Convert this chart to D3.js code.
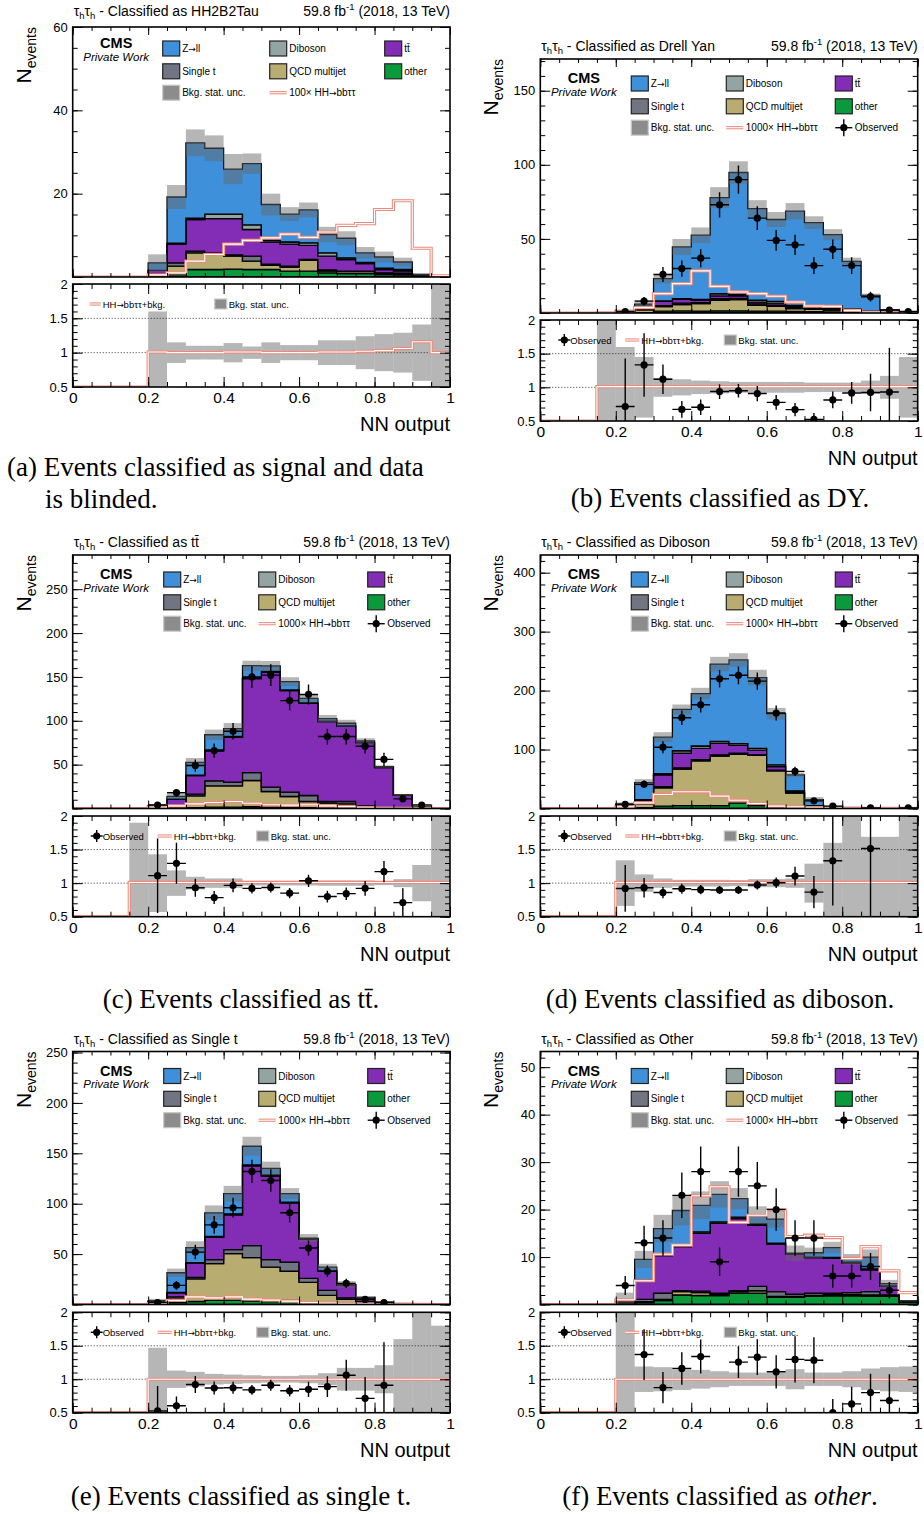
<!DOCTYPE html>
<html>
<head>
<meta charset="utf-8">
<script src="https://cdn.jsdelivr.net/npm/d3@7"></script>
<style>
  body { margin: 0; background: #fff; }
  svg { display: block; }
  .plot text { font-family: "Liberation Sans", Arial, Helvetica, sans-serif; fill: #000; }
  .plot .arrow { font-family: "DejaVu Sans", sans-serif; }
  .caption { font-family: "Liberation Serif", "DejaVu Serif", serif; font-size: 27px; fill: #000; }
</style>
</head>
<body>
<svg id="figure" width="924" height="1514"></svg>
<script>
// NN output binning (20 bins)
const binEdges = [0, 0.05, 0.1, 0.15, 0.2, 0.25, 0.3, 0.35, 0.4, 0.45, 0.5, 0.55, 0.6, 0.65, 0.7, 0.75, 0.8, 0.85, 0.9, 0.95, 1];

// (a) classified as HH2B2Tau
const hhOther   = [0, 0, 0, 0, 0.2, 0.6, 1.8, 1.8, 1.9, 1.8, 1.8, 1.4, 1.4, 1.0, 0.8, 0.8, 0.6, 0.5, 0.1, 0];
const hhQcd     = [0, 0, 0, 0, 0.4, 2.0, 4.0, 3.4, 3.1, 2.0, 1.0, 1.0, 2.6, 0.4, 0.5, 0.5, 0.3, 0.2, 0, 0];
const hhSingleT = [0, 0, 0, 0, 0.2, 0.8, 0.4, 0.5, 0.3, 1.2, 0.3, 0.2, 0.2, 0.3, 0.1, 0.1, 0.1, 0.2, 0.1, 0];
const hhTtbar   = [0, 0, 0, 0, 0.8, 4.5, 7.6, 8.3, 8.7, 6.4, 5.3, 5.3, 3.4, 3.3, 2.8, 1.8, 0.8, 0.6, 0.1, 0.1];
const hhDiboson = [0, 0, 0, 0, 0, 0.2, 0.3, 1.1, 1.1, 1.1, 0.4, 0.5, 0.6, 0.8, 0.4, 0.3, 0.3, 0.3, 0, 0];
const hhZll     = [0, 0, 0, 0, 1.8, 11.1, 18.1, 15.8, 10.8, 14.7, 8.6, 6.7, 7.9, 4.4, 4.7, 2.3, 2.7, 1.8, 0.3, 0.1];
const hhSignal  = [0, 0, 0, 0, 0.5, 1.0, 3.8, 5.4, 7.9, 8.8, 9.4, 10.3, 9.5, 10.8, 12.4, 12.8, 16.2, 18.3, 6.9, 0.3];
const hhRelUnc  = [0, 0, 0, 0, 0.6, 0.15, 0.10, 0.10, 0.14, 0.09, 0.15, 0.11, 0.11, 0.18, 0.18, 0.24, 0.27, 0.29, 0.41, 1.5];
const hhSigRatio = [0, 0, 0, 0, 1.01, 1.0, 1.0, 1.0, 1.01, 1.01, 1.0, 1.0, 1.0, 1.01, 1.01, 1.02, 1.03, 1.06, 1.16, 1.0];
const hhObserved = null;

// (b) classified as Drell Yan
const dyOther   = [0, 0, 0, 0.05, 0.1, 0.3, 1.2, 1.4, 1.3, 1.5, 1.5, 1.3, 1.2, 1.0, 0.9, 0.7, 0.5, 0.3, 0.1, 0.05];
const dyQcd     = [0, 0, 0, 0, 0.4, 1.8, 3.2, 4.2, 5.0, 7.1, 7.5, 3.9, 3.3, 2.0, 1.5, 1.2, 0.8, 0.2, 0.1, 0];
const dySingleT = [0, 0, 0, 0, 0.2, 0.5, 0.6, 1.0, 0.7, 1.0, 0.8, 0.9, 0.8, 0.7, 0.6, 0.5, 0.4, 0.2, 0.1, 0];
const dyTtbar   = [0, 0, 0, 0, 0.3, 1.8, 2.8, 2.6, 1.7, 1.9, 1.7, 1.2, 1.3, 0.8, 0.6, 0.5, 0.5, 0.2, 0.1, 0.05];
const dyDiboson = [0, 0, 0, 0, 0.1, 0.3, 0.3, 0.5, 0.4, 1.5, 1.0, 1.3, 1.3, 0.7, 0.5, 0.5, 0.5, 0.3, 0.05, 0];
const dyZll     = [0, 0, 0, 0.1, 0.3, 1.3, 15.1, 34.9, 43.4, 64.9, 82.3, 61.9, 55.2, 63.5, 56.9, 49.5, 32.2, 10.7, 1.7, 0.3];
const dySignal  = [0, 0, 0, 0.1, 1.1, 3.6, 13.1, 19.8, 28.4, 18.0, 14.2, 13.1, 11.3, 7.4, 4.7, 4.5, 1.8, 0.5, 0.2, 0.1];
const dyRelUnc  = [0, 0, 0, 1.5, 0.6, 0.45, 0.14, 0.12, 0.10, 0.09, 0.08, 0.08, 0.08, 0.08, 0.07, 0.07, 0.07, 0.10, 0.17, 0.45];
const dySigRatio = [0, 0, 0, 1.01, 1.01, 1.01, 1.01, 1.01, 1.01, 1.01, 1.01, 1.01, 1.01, 1.01, 1.01, 1.01, 1.01, 1.01, 1.01, 1.01];
const dyObserved = [null, null, null, null, 1, 8, 26, 30, 37, 73, 90, 64, 49, 46, 32, 43, 32, 11, 2, 1];

// (c) classified as ttbar
const ttOther   = [0, 0, 0, 0.05, 0.3, 0.4, 1.0, 1.5, 1.5, 2.0, 1.5, 1.2, 1.0, 0.8, 0.8, 0.5, 0.3, 0.1, 0.1, 0];
const ttQcd     = [0, 0, 0, 0, 1.0, 1.6, 13.5, 24.3, 24.3, 29.9, 17.9, 12.5, 7.0, 5.3, 4.5, 1.5, 0.3, 0.1, 0, 0];
const ttSingleT = [0, 0, 0, 0, 0.4, 0.6, 1.8, 5.7, 4.2, 9.1, 4.9, 4.9, 6.8, 1.9, 2.7, 1.0, 0.5, 0.3, 0.1, 0];
const ttTtbar   = [0, 0, 0, 0.2, 1.5, 8.0, 21.3, 34.2, 51.2, 107.0, 130.9, 115.7, 105.1, 91.0, 86.0, 72.0, 45.5, 14.5, 1.2, 0.2];
const ttDiboson = [0, 0, 0, 0, 0.1, 0.2, 0.5, 1.0, 1.0, 1.0, 1.0, 0.8, 0.6, 0.5, 0.4, 0.3, 0.2, 0.1, 0, 0];
const ttZll     = [0, 0, 0, 0, 0.3, 3.1, 14.5, 17.4, 8.8, 13.8, 6.3, 9.5, 5.1, 3.0, 2.8, 1.7, 1.0, 0.4, 0.2, 0];
const ttSignal  = [0, 0, 0, 0, 1.5, 3.0, 5.3, 6.8, 8.0, 6.0, 4.2, 3.8, 4.2, 3.0, 2.3, 1.1, 0.5, 0.3, 0.1, 0];
const ttRelUnc  = [0, 0, 0, 0.9, 0.43, 0.19, 0.095, 0.07, 0.07, 0.035, 0.035, 0.035, 0.035, 0.04, 0.04, 0.04, 0.03, 0.06, 0.27, 1.5];
const ttSigRatio = [0, 0, 0, 1.01, 1.01, 1.01, 1.01, 1.01, 1.01, 1.01, 1.01, 1.01, 1.01, 1.01, 1.01, 1.01, 1.01, 1.01, 1.01, 1.01];
const ttObserved = [null, null, null, null, 4, 18, 49, 66, 88, 150, 152, 123, 130, 82, 82, 71, 56, 11, 4, null];

// (d) classified as Diboson
const vvOther   = [0, 0, 0, 0, 0.5, 1.5, 4, 5, 5, 5, 9, 5, 3, 2, 0.5, 0.2, 0.1, 0.05, 0.05, 0];
const vvQcd     = [0, 0, 0, 0, 2.3, 6.0, 31, 62, 76, 84, 83, 85, 61, 24, 3, 0.8, 0.3, 0.2, 0.2, 0.1];
const vvSingleT = [0, 0, 0, 0, 0.5, 1.5, 2, 2, 2, 2, 2, 1, 1, 1, 0.5, 0.2, 0.1, 0.05, 0.05, 0.05];
const vvTtbar   = [0, 0, 0, 0, 1.0, 5.0, 20, 25, 19, 20, 13, 8, 6, 2, 0.5, 0.3, 0.1, 0.1, 0.1, 0.05];
const vvDiboson = [0, 0, 0, 0, 0.4, 1.0, 2, 4, 4, 3, 3, 3, 3, 1, 0.5, 0.2, 0.1, 0.06, 0, 0];
const vvZll     = [0, 0, 0, 0, 2.9, 29.0, 62, 70, 89, 131, 142, 120, 87, 27, 10, 1.3, 0.3, 0.2, 0.2, 0.2];
const vvSignal  = [0, 0, 0, 0, 2.8, 9.6, 23.8, 28.3, 28.3, 21.0, 14.1, 8.5, 4.0, 2.8, 1.5, 1.0, 0.5, 0.3, 0.2, 0.1];
const vvRelUnc  = [0, 0, 0, 0, 0.34, 0.13, 0.07, 0.05, 0.05, 0.05, 0.045, 0.06, 0.06, 0.07, 0.29, 0.6, 1.5, 0.69, 0.69, 1.5];
const vvSigRatio = [0, 0, 0, 0, 1.01, 1.01, 1.01, 1.01, 1.01, 1.01, 1.01, 1.01, 1.01, 1.01, 1.01, 1.01, 1.01, 1.01, 1.01, 1.01];
const vvObserved = [null, null, null, null, 7, 41, 104, 154, 176, 220, 226, 216, 162, 63, 13, 4, null, 1, null, 1];

// (e) classified as Single t
const stOther   = [0, 0, 0, 0, 0.5, 2, 3, 4, 4, 3.5, 3, 4, 2, 1, 0.5, 0.3, 0.2, 0.1, 0, 0];
const stQcd     = [0, 0, 0, 0, 1.0, 3.5, 22.5, 36.5, 46.5, 43, 34, 29, 20, 8, 4.5, 1.5, 0.5, 0.2, 0.1, 0.1];
const stSingleT = [0, 0, 0, 0, 0.5, 2, 1.5, 4, 4, 12, 7.5, 9, 4, 5, 1.5, 1.0, 0.5, 0.2, 0.1, 0.1];
const stTtbar   = [0, 0, 0, 0, 0.8, 4, 14, 22, 34.5, 79, 83, 58.5, 39, 19, 13, 3.5, 0.8, 0.2, 0.1, 0.1];
const stDiboson = [0, 0, 0, 0, 0.2, 0.5, 0.5, 1, 1, 1, 1, 1, 0.3, 0.3, 0.2, 0.2, 0.1, 0, 0, 0];
const stZll     = [0, 0, 0, 0, 0.8, 19.5, 15, 23.5, 20, 18.5, 6.5, 8.5, 0.6, 3.8, 0.1, 0.5, 0.1, 0.1, 0, 0];
const stSignal  = [0, 0, 0, 0, 1.0, 4.0, 7.6, 6.6, 7.6, 5.3, 4.3, 3.3, 2.0, 1.5, 1.0, 0.7, 0.5, 0.3, 0.1, 0];
const stRelUnc  = [0, 0, 0, 0, 0.47, 0.13, 0.11, 0.08, 0.07, 0.06, 0.05, 0.05, 0.06, 0.09, 0.17, 0.17, 0.21, 0.6, 1.5, 0.8];
const stSigRatio = [0, 0, 0, 0, 1.0, 1.0, 1.0, 1.0, 1.0, 1.0, 1.0, 1.0, 1.0, 1.0, 1.0, 1.0, 1.0, 1.0, 1.0, 1.0];
const stObserved = [null, null, null, null, 2, 19, 52, 79, 96, 132, 123, 91, 56, 33, 21, 5, 2, null, null, null];

// (f) classified as Other
const otOther   = [0, 0, 0, 0, 0.3, 0.4, 0.8, 2.0, 1.9, 1.9, 2.4, 2.4, 1.5, 1.5, 1.7, 1.8, 1.8, 1.7, 1.7, 0.5];
const otQcd     = [0, 0, 0, 0, 0.1, 0.2, 0.3, 0.7, 0.6, 0.2, 0.3, 0.5, 0.2, 0.2, 0.2, 0.3, 0.3, 0.3, 0.1, 0];
const otSingleT = [0, 0, 0, 0, 0.2, 0.5, 1.3, 0.2, 0.3, 0.3, 0.2, 0.9, 1.0, 0.5, 0.5, 0.3, 0.4, 0.7, 0.2, 0];
const otTtbar   = [0, 0, 0, 0, 0.3, 3.9, 7.9, 9.3, 12.2, 14.7, 15.2, 12.9, 10.0, 8.4, 7.5, 7.3, 6.2, 4.6, 1.8, 0.2];
const otDiboson = [0, 0, 0, 0, 0, 0.2, 0.2, 0.2, 0.3, 0.3, 0.3, 0.3, 0.2, 0.1, 0.1, 0.2, 0.2, 0.2, 0.1, 0];
const otZll     = [0, 0, 0, 0, 0.1, 4.3, 5.5, 7.4, 5.6, 5.8, 3.9, 1.8, 5.1, 0.1, 0.9, 2.1, 0.6, 2.5, 0.5, 0.1];
const otSignal  = [0, 0, 0, 0, 1.0, 5.0, 10.6, 12.5, 22.9, 24.8, 17.3, 18.8, 19.9, 14.3, 14.6, 14.1, 9.7, 12.2, 7.1, 2.5];
const otRelUnc  = [0, 0, 0, 0, 1.5, 0.19, 0.18, 0.16, 0.14, 0.12, 0.10, 0.10, 0.10, 0.15, 0.10, 0.10, 0.12, 0.16, 0.18, 0.19];
const otSigRatio = [0, 0, 0, 0, 1.0, 1.0, 1.0, 1.0, 1.0, 1.0, 1.0, 1.0, 1.0, 1.0, 1.0, 1.0, 1.0, 1.0, 1.0, 1.0];
const otObserved = [null, null, null, null, 4, 13, 14, 23, 28, 9, 28, 25, 20, 14, 14, 6, 6, 8, 3, null];

// background processes, stacked bottom to top
const processes = [
    { key: 'other',   label: 'other',        color: '#0a9a3c' },
    { key: 'qcd',     label: 'QCD multijet', color: '#b9ac70' },
    { key: 'singleT', label: 'Single t',     color: '#717581' },
    { key: 'ttbar',   label: 'tt\u0304',     color: '#832db6' },
    { key: 'diboson', label: 'Diboson',      color: '#94a4a2' },
    { key: 'zll',     label: 'Z\u2192ll',    color: '#3f90da' }
];

const sigColor = '#ec8a7b';
const bandColor = '#666666';
const bandOpacity = 0.48;

// write a label, giving arrows a font that has a proper glyph
function setLabel(textSel, str) {
    str.split(/(\u2192)/).forEach(part => {
        if (!part) return;
        const ts = textSel.append('tspan').text(part);
        if (part === '\u2192') ts.attr('class', 'arrow').attr('font-size', '0.9em');
    });
    return textSel;
}

class ClassifierPlot {

    /**
     * @param {Object} _config - pad geometry and labels
     * @param {Object} _data - per-process bin contents, signal, observed
     */
    constructor(_config, _data) {
        this.config = {
            parentElement: _config.parentElement,
            id: _config.id,
            left: _config.left,
            right: _config.right,
            mainTop: _config.mainTop,
            mainBottom: _config.mainBottom,
            ratioTop: _config.ratioTop,
            ratioBottom: _config.ratioBottom,
            yMax: _config.yMax,
            yStep: _config.yStep,
            yMinor: _config.yMinor,
            title: _config.title,
            sigLabel: _config.sigLabel,
            legendShift: _config.legendShift || 0,
            legendCols: _config.legendCols || [91, 186, 295]
        };
        this.data = _data;
        this.initVis();
    }

    initVis() {
        let vis = this;
        const c = vis.config;

        vis.svg = d3.select(c.parentElement);
        vis.g = vis.svg.append('g').attr('class', 'plot');

        vis.xScale = d3.scaleLinear().domain([0, 1]).range([c.left, c.right]);
        vis.yScale = d3.scaleLinear().domain([0, c.yMax]).range([c.mainBottom, c.mainTop]);
        vis.rScale = d3.scaleLinear().domain([0.5, 2]).range([c.ratioBottom, c.ratioTop]);

        const defs = vis.g.append('defs');
        defs.append('clipPath').attr('id', c.id + '-main').append('rect')
            .attr('x', c.left).attr('y', c.mainTop)
            .attr('width', c.right - c.left).attr('height', c.mainBottom - c.mainTop);
        defs.append('clipPath').attr('id', c.id + '-ratio').append('rect')
            .attr('x', c.left).attr('y', c.ratioTop)
            .attr('width', c.right - c.left).attr('height', c.ratioBottom - c.ratioTop);

        vis.mainG = vis.g.append('g').attr('clip-path', `url(#${c.id}-main)`);
        vis.ratioG = vis.g.append('g').attr('clip-path', `url(#${c.id}-ratio)`);
        vis.axisG = vis.g.append('g');

        vis.updateVis();
    }

    updateVis() {
        let vis = this;

        vis.rows = binEdges.slice(0, -1).map((e, i) => {
            const r = { lo: e, hi: binEdges[i + 1] };
            processes.forEach(p => r[p.key] = vis.data[p.key][i]);
            return r;
        });
        vis.stacked = d3.stack().keys(processes.map(p => p.key))(vis.rows);
        vis.totals = vis.rows.map(r => d3.sum(processes, p => r[p.key]));

        vis.renderVis();
    }

    renderVis() {
        let vis = this;
        const c = vis.config;
        const x = vis.xScale, y = vis.yScale, r = vis.rScale;
        const nBins = vis.rows.length;
        const edgePts = vals => binEdges.map((e, i) => ({ x: e, v: vals[Math.min(i, nBins - 1)] }));

        // stacked backgrounds
        const area = d3.area().curve(d3.curveStepAfter)
            .x(d => x(d.x)).y0(d => y(d.v[0])).y1(d => y(d.v[1]));
        vis.mainG.selectAll('.layer')
            .data(vis.stacked)
            .join('path')
            .attr('class', 'layer')
            .attr('d', s => area(edgePts(s)))
            .attr('fill', (s, i) => processes[i].color)
            .attr('stroke', '#000')
            .attr('stroke-width', 1.3);

        // background stat. uncertainty band
        const bandBins = vis.rows.map((b, i) => ({ b, tot: vis.totals[i], rel: vis.data.relUnc[i] }))
            .filter(d => d.tot > 0 && d.rel > 0);
        vis.mainG.selectAll('.band')
            .data(bandBins)
            .join('rect')
            .attr('class', 'band')
            .attr('x', d => x(d.b.lo)).attr('width', d => x(d.b.hi) - x(d.b.lo))
            .attr('y', d => y(d.tot * (1 + d.rel)))
            .attr('height', d => y(Math.max(0, d.tot * (1 - d.rel))) - y(d.tot * (1 + d.rel)))
            .attr('fill', bandColor).attr('fill-opacity', bandOpacity);

        // scaled signal
        const line = d3.line().curve(d3.curveStepAfter).x(d => x(d.x)).y(d => y(d.v));
        [[sigColor, 3.2], ['#fff', 1.1]].forEach(([col, w]) => {
            vis.mainG.append('path')
                .attr('d', line(edgePts(vis.data.signal)))
                .attr('fill', 'none').attr('stroke', col).attr('stroke-width', w);
        });

        // observed data
        if (vis.data.observed) {
            const obs = vis.rows.map((b, i) => ({ b, n: vis.data.observed[i], tot: vis.totals[i] }))
                .filter(d => d.n !== null);
            const pts = vis.mainG.selectAll('.obs').data(obs).join('g').attr('class', 'obs');
            pts.append('line')
                .attr('x1', d => x(d.b.lo)).attr('x2', d => x(d.b.hi))
                .attr('y1', d => y(d.n)).attr('y2', d => y(d.n));
            pts.append('line')
                .attr('x1', d => x((d.b.lo + d.b.hi) / 2)).attr('x2', d => x((d.b.lo + d.b.hi) / 2))
                .attr('y1', d => y(Math.max(0, d.n - Math.sqrt(d.n)))).attr('y2', d => y(d.n + Math.sqrt(d.n)));
            pts.selectAll('line').attr('stroke', '#000').attr('stroke-width', 1.4);
            pts.append('circle')
                .attr('cx', d => x((d.b.lo + d.b.hi) / 2)).attr('cy', d => y(d.n)).attr('r', 3.6);

            // ratio points
            const rat = obs.filter(d => d.tot > 0)
                .map(d => ({ b: d.b, v: d.n / d.tot, e: Math.sqrt(d.n) / d.tot }))
                .filter(d => d.v >= 0.5 && d.v <= 2);
            vis.ratioPts = vis.ratioG.selectAll('.robs').data(rat).join('g').attr('class', 'robs');
        }

        // ratio pad: band, reference lines, signal+bkg, data
        vis.ratioG.selectAll('.rband')
            .data(bandBins)
            .join('rect')
            .attr('class', 'rband')
            .attr('x', d => x(d.b.lo)).attr('width', d => x(d.b.hi) - x(d.b.lo))
            .attr('y', d => r(1 + d.rel))
            .attr('height', d => r(1 - d.rel) - r(1 + d.rel))
            .attr('fill', bandColor).attr('fill-opacity', bandOpacity);
        [1, 1.5].forEach(v => {
            vis.ratioG.append('line')
                .attr('x1', c.left).attr('x2', c.right).attr('y1', r(v)).attr('y2', r(v))
                .attr('stroke', '#000').attr('stroke-width', 0.8).attr('stroke-dasharray', '1,2');
        });
        const rc = r.copy().clamp(true);
        const rline = d3.line().curve(d3.curveStepAfter).x(d => x(d.x)).y(d => rc(d.v));
        [[sigColor, 3.2], ['#fff', 1.1]].forEach(([col, w]) => {
            vis.ratioG.append('path')
                .attr('d', rline(edgePts(vis.data.sigRatio)))
                .attr('fill', 'none').attr('stroke', col).attr('stroke-width', w);
        });
        if (vis.ratioPts) {
            vis.ratioPts.raise();
            vis.ratioPts.append('line')
                .attr('x1', d => x(d.b.lo)).attr('x2', d => x(d.b.hi))
                .attr('y1', d => r(d.v)).attr('y2', d => r(d.v));
            vis.ratioPts.append('line')
                .attr('x1', d => x((d.b.lo + d.b.hi) / 2)).attr('x2', d => x((d.b.lo + d.b.hi) / 2))
                .attr('y1', d => r(d.v - d.e)).attr('y2', d => r(d.v + d.e));
            vis.ratioPts.selectAll('line').attr('stroke', '#000').attr('stroke-width', 1.4);
            vis.ratioPts.append('circle')
                .attr('cx', d => x((d.b.lo + d.b.hi) / 2)).attr('cy', d => r(d.v)).attr('r', 3.6);
        }

        vis.renderAxes();
        vis.renderLabels();
        vis.renderLegend();
    }

    renderAxes() {
        let vis = this;
        const c = vis.config;
        const x = vis.xScale, y = vis.yScale, r = vis.rScale;
        const clean = g => g.call(s => s.select('.domain').remove())
            .attr('font-family', null).attr('font-size', null);

        const xMajor = [0, 0.2, 0.4, 0.6, 0.8, 1];
        const xMinor = binEdges;
        const yMajor = d3.range(0, c.yMax + 1e-9, c.yStep);
        const yMinor = d3.range(0, c.yMax + 1e-9, c.yMinor);
        const rMajor = [0.5, 1, 1.5, 2];
        const rMinor = d3.range(5, 21).map(v => v / 10);

        // main pad
        vis.axisG.append('g').attr('transform', `translate(${c.left},0)`)
            .call(d3.axisLeft(y).tickValues(yMajor).tickSize(-10).tickPadding(5)
                .tickFormat(v => v === 0 ? '' : v)).call(clean)
            .selectAll('text').attr('font-size', 13);
        vis.axisG.append('g').attr('transform', `translate(${c.left},0)`)
            .call(d3.axisLeft(y).tickValues(yMinor).tickSize(-5).tickFormat('')).call(clean);
        vis.axisG.append('g').attr('transform', `translate(${c.right},0)`)
            .call(d3.axisRight(y).tickValues(yMajor).tickSize(-10).tickFormat('')).call(clean);
        vis.axisG.append('g').attr('transform', `translate(${c.right},0)`)
            .call(d3.axisRight(y).tickValues(yMinor).tickSize(-5).tickFormat('')).call(clean);
        [[c.mainTop, d3.axisTop], [c.mainBottom, d3.axisBottom]].forEach(([pos, ax]) => {
            vis.axisG.append('g').attr('transform', `translate(0,${pos})`)
                .call(ax(x).tickValues(xMajor).tickSize(-8).tickFormat('')).call(clean);
            vis.axisG.append('g').attr('transform', `translate(0,${pos})`)
                .call(ax(x).tickValues(xMinor).tickSize(-4).tickFormat('')).call(clean);
        });

        // ratio pad
        vis.axisG.append('g').attr('transform', `translate(${c.left},0)`)
            .call(d3.axisLeft(r).tickValues(rMajor).tickSize(-10).tickPadding(5)
                .tickFormat(d3.format('~g'))).call(clean)
            .selectAll('text').attr('font-size', 13);
        vis.axisG.append('g').attr('transform', `translate(${c.left},0)`)
            .call(d3.axisLeft(r).tickValues(rMinor).tickSize(-5).tickFormat('')).call(clean);
        vis.axisG.append('g').attr('transform', `translate(${c.right},0)`)
            .call(d3.axisRight(r).tickValues(rMajor).tickSize(-10).tickFormat('')).call(clean);
        vis.axisG.append('g').attr('transform', `translate(${c.right},0)`)
            .call(d3.axisRight(r).tickValues(rMinor).tickSize(-5).tickFormat('')).call(clean);
        vis.axisG.append('g').attr('transform', `translate(0,${c.ratioTop})`)
            .call(d3.axisTop(x).tickValues(xMajor).tickSize(-10).tickFormat('')).call(clean);
        vis.axisG.append('g').attr('transform', `translate(0,${c.ratioTop})`)
            .call(d3.axisTop(x).tickValues(xMinor).tickSize(-5).tickFormat('')).call(clean);
        vis.axisG.append('g').attr('transform', `translate(0,${c.ratioBottom})`)
            .call(d3.axisBottom(x).tickValues(xMajor).tickSize(-10).tickPadding(5)
                .tickFormat(d3.format('~g'))).call(clean)
            .selectAll('text').attr('font-size', 15.5);
        vis.axisG.append('g').attr('transform', `translate(0,${c.ratioBottom})`)
            .call(d3.axisBottom(x).tickValues(xMinor).tickSize(-5).tickFormat('')).call(clean);

        vis.axisG.selectAll('line').attr('stroke', '#000');

        // frames
        [[c.mainTop, c.mainBottom], [c.ratioTop, c.ratioBottom]].forEach(([t, b]) => {
            vis.axisG.append('rect')
                .attr('x', c.left).attr('y', t).attr('width', c.right - c.left).attr('height', b - t)
                .attr('fill', 'none').attr('stroke', '#000').attr('stroke-width', 1.6);
        });

        // axis titles
        vis.axisG.append('text')
            .attr('x', c.right).attr('y', c.ratioBottom + 44)
            .attr('text-anchor', 'end').attr('font-size', 20)
            .text('NN output');
        const yl = vis.axisG.append('text')
            .attr('transform', `translate(${c.left - 42},${c.mainTop}) rotate(-90)`)
            .attr('text-anchor', 'end');
        yl.append('tspan').attr('font-size', 21).text('N');
        yl.append('tspan').attr('font-size', 14).attr('dy', 5).text('events');
    }

    renderLabels() {
        let vis = this;
        const c = vis.config;
        const base = c.mainTop - 8 + c.legendShift;

        const t = vis.g.append('text').attr('x', c.left + 1).attr('y', base).attr('font-size', 14);
        t.append('tspan').text('\u03c4');
        t.append('tspan').attr('font-size', 9.5).attr('dy', 3).text('h');
        t.append('tspan').attr('dy', -3).text('\u03c4');
        t.append('tspan').attr('font-size', 9.5).attr('dy', 3).text('h');
        t.append('tspan').attr('dy', -3).text(' - Classified as ' + c.title);

        const l = vis.g.append('text').attr('x', c.right).attr('y', base)
            .attr('text-anchor', 'end').attr('font-size', 14);
        l.append('tspan').text('59.8 fb');
        l.append('tspan').attr('font-size', 9.5).attr('dy', -6).text('-1');
        l.append('tspan').attr('dy', 6).text(' (2018, 13 TeV)');

        vis.g.append('text')
            .attr('x', c.left + 43.5).attr('y', c.mainTop + 24 + c.legendShift)
            .attr('text-anchor', 'middle').attr('font-size', 14.5).attr('font-weight', 'bold')
            .text('CMS');
        vis.g.append('text')
            .attr('x', c.left + 43.5).attr('y', c.mainTop + 36.5 + c.legendShift)
            .attr('text-anchor', 'middle').attr('font-size', 11.5).attr('font-style', 'italic')
            .text('Private Work');
    }

    renderLegend() {
        let vis = this;
        const c = vis.config;
        const rowsY = [24.5, 47.3, 68.7].map(v => c.mainTop + v + c.legendShift);
        const cols = c.legendCols.map(v => c.left + v);
        const byKey = k => processes.find(p => p.key === k);
        const entries = [
            [byKey('zll'), byKey('diboson'), byKey('ttbar')],
            [byKey('singleT'), byKey('qcd'), byKey('other')],
            [{ type: 'band', label: 'Bkg. stat. unc.' }, { type: 'sig', label: c.sigLabel },
             vis.data.observed ? { type: 'obs', label: 'Observed' } : null]
        ];
        const lg = vis.g.append('g');

        const drawSymbol = (g, e, x0, yc, w, h) => {
            if (e.type === 'band') {
                g.append('rect').attr('x', x0).attr('y', yc - h / 2).attr('width', w).attr('height', h)
                    .attr('fill', '#8c8c8c').attr('stroke', '#c8c8c8').attr('stroke-width', 1.2);
            } else if (e.type === 'sig') {
                g.append('line').attr('x1', x0).attr('x2', x0 + w).attr('y1', yc).attr('y2', yc)
                    .attr('stroke', sigColor).attr('stroke-width', 3.2);
                g.append('line').attr('x1', x0).attr('x2', x0 + w).attr('y1', yc).attr('y2', yc)
                    .attr('stroke', '#fff').attr('stroke-width', 1.1);
            } else if (e.type === 'obs') {
                g.append('line').attr('x1', x0).attr('x2', x0 + w).attr('y1', yc).attr('y2', yc)
                    .attr('stroke', '#000').attr('stroke-width', 1.4);
                g.append('line').attr('x1', x0 + w / 2).attr('x2', x0 + w / 2)
                    .attr('y1', yc - h / 2 - 1).attr('y2', yc + h / 2 + 1)
                    .attr('stroke', '#000').attr('stroke-width', 1.4);
                g.append('circle').attr('cx', x0 + w / 2).attr('cy', yc).attr('r', 3.6);
            } else {
                g.append('rect').attr('x', x0).attr('y', yc - h / 2).attr('width', w).attr('height', h)
                    .attr('fill', e.color).attr('stroke', '#222').attr('stroke-width', 1.2);
            }
        };

        entries.forEach((row, ri) => row.forEach((e, ci) => {
            if (!e) return;
            drawSymbol(lg, e, cols[ci], rowsY[ri], 17, 15);
            setLabel(lg.append('text').attr('x', cols[ci] + 19.5).attr('y', rowsY[ri] + 3.6)
                .attr('font-size', 10), e.label);
        }));

        // ratio legend
        const ry = c.ratioTop + 20;
        const rEntries = vis.data.observed
            ? [{ type: 'obs', x: 18, w: 12, tx: 30, label: 'Observed' },
               { type: 'sig', x: 85, w: 14, tx: 101, label: 'HH\u2192bb\u03c4\u03c4+bkg.' },
               { type: 'band', x: 184, w: 12, tx: 198, label: 'Bkg. stat. unc.' }]
            : [{ type: 'sig', x: 17, w: 11, tx: 30, label: 'HH\u2192bb\u03c4\u03c4+bkg.' },
               { type: 'band', x: 142, w: 12, tx: 156, label: 'Bkg. stat. unc.' }];
        rEntries.forEach(e => {
            drawSymbol(lg, e, c.left + e.x, ry, e.w, 10);
            setLabel(lg.append('text').attr('x', c.left + e.tx).attr('y', ry + 3.5)
                .attr('font-size', 9.5), e.label);
        });
    }
}

const makeData = (other, qcd, singleT, ttbar, diboson, zll, signal, relUnc, sigRatio, observed) =>
    ({ other, qcd, singleT, ttbar, diboson, zll, signal, relUnc, sigRatio, observed });

const L = { left: 72.7, right: 450 };
const R = { left: 540.3, right: 917.7 };

new ClassifierPlot({ parentElement: '#figure', id: 'pa', ...L, mainTop: 27, mainBottom: 277, ratioTop: 284, ratioBottom: 387,
    yMax: 60, yStep: 20, yMinor: 5, title: 'HH2B2Tau', sigLabel: '100\u00d7 HH\u2192bb\u03c4\u03c4',
    legendShift: -3, legendCols: [90, 197, 312] },
    makeData(hhOther, hhQcd, hhSingleT, hhTtbar, hhDiboson, hhZll, hhSignal, hhRelUnc, hhSigRatio, hhObserved));

new ClassifierPlot({ parentElement: '#figure', id: 'pb', ...R, mainTop: 59, mainBottom: 313, ratioTop: 320, ratioBottom: 421,
    yMax: 171.4, yStep: 50, yMinor: 10, title: 'Drell Yan', sigLabel: '1000\u00d7 HH\u2192bb\u03c4\u03c4' },
    makeData(dyOther, dyQcd, dySingleT, dyTtbar, dyDiboson, dyZll, dySignal, dyRelUnc, dySigRatio, dyObserved));

new ClassifierPlot({ parentElement: '#figure', id: 'pc', ...L, mainTop: 555, mainBottom: 808.5, ratioTop: 816, ratioBottom: 916.7,
    yMax: 289, yStep: 50, yMinor: 10, title: 'tt\u0304', sigLabel: '1000\u00d7 HH\u2192bb\u03c4\u03c4' },
    makeData(ttOther, ttQcd, ttSingleT, ttTtbar, ttDiboson, ttZll, ttSignal, ttRelUnc, ttSigRatio, ttObserved));

new ClassifierPlot({ parentElement: '#figure', id: 'pd', ...R, mainTop: 555, mainBottom: 808.5, ratioTop: 816, ratioBottom: 916.7,
    yMax: 430, yStep: 100, yMinor: 20, title: 'Diboson', sigLabel: '1000\u00d7 HH\u2192bb\u03c4\u03c4' },
    makeData(vvOther, vvQcd, vvSingleT, vvTtbar, vvDiboson, vvZll, vvSignal, vvRelUnc, vvSigRatio, vvObserved));

new ClassifierPlot({ parentElement: '#figure', id: 'pe', ...L, mainTop: 1051.5, mainBottom: 1304.5, ratioTop: 1312.3, ratioBottom: 1412.7,
    yMax: 251, yStep: 50, yMinor: 10, title: 'Single t', sigLabel: '1000\u00d7 HH\u2192bb\u03c4\u03c4' },
    makeData(stOther, stQcd, stSingleT, stTtbar, stDiboson, stZll, stSignal, stRelUnc, stSigRatio, stObserved));

new ClassifierPlot({ parentElement: '#figure', id: 'pf', ...R, mainTop: 1051.5, mainBottom: 1304.5, ratioTop: 1312.3, ratioBottom: 1412.7,
    yMax: 53.3, yStep: 10, yMinor: 2, title: 'Other', sigLabel: '1000\u00d7 HH\u2192bb\u03c4\u03c4' },
    makeData(otOther, otQcd, otSingleT, otTtbar, otDiboson, otZll, otSignal, otRelUnc, otSigRatio, otObserved));

// sub-figure captions
const captions = [
    { x: 7,   y: 476,  anchor: 'start',  parts: [['(a) Events classified as signal and data', false]] },
    { x: 45,  y: 508,  anchor: 'start',  parts: [['is blinded.', false]] },
    { x: 720, y: 507,  anchor: 'middle', parts: [['(b) Events classified as DY.', false]] },
    { x: 241, y: 1008, anchor: 'middle', parts: [['(c) Events classified as tt\u0304.', false]] },
    { x: 720, y: 1008, anchor: 'middle', parts: [['(d) Events classified as diboson.', false]] },
    { x: 241, y: 1505, anchor: 'middle', parts: [['(e) Events classified as single t.', false]] },
    { x: 720, y: 1505, anchor: 'middle', parts: [['(f) Events classified as ', false], ['other', true], ['.', false]] }
];
const capG = d3.select('#figure').append('g');
captions.forEach(cp => {
    const t = capG.append('text').attr('class', 'caption')
        .attr('x', cp.x).attr('y', cp.y).attr('text-anchor', cp.anchor);
    cp.parts.forEach(([s, it]) => t.append('tspan').attr('font-style', it ? 'italic' : null).text(s));
});
</script>
</body>
</html>
